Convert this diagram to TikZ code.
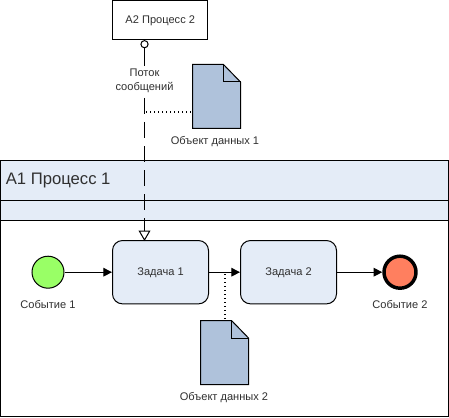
\documentclass[tikz,border=0pt]{standalone}
\usepackage{fontspec}
\setmainfont{Liberation Sans}
\usetikzlibrary{arrows.meta}
\definecolor{bandblue}{HTML}{E4ECF7}
\definecolor{docblue}{HTML}{AFC2DB}
\definecolor{startgreen}{HTML}{99FF66}
\definecolor{endred}{HTML}{FF7F5F}
\definecolor{txt}{HTML}{303030}
\tikzset{
  x=0.75pt,y=-0.75pt,
  lbl/.style={font=\fontsize{8.3pt}{10.5pt}\selectfont,text=txt,inner sep=0pt,align=center},
  taskbox/.style={draw=black,line width=0.75pt,fill=bandblue,rounded corners=7.5pt,minimum width=72pt,minimum height=47.5pt,inner sep=0pt},
  startev/.style={circle,draw=black,line width=0.75pt,fill=startgreen,minimum size=24pt,inner sep=0pt},
  endev/.style={circle,draw=black,line width=2.6pt,fill=endred,minimum size=24pt,inner sep=0pt},
  seq/.style={draw=black,line width=0.75pt,-{Triangle[length=6.5pt,width=6.5pt]}},
  assoc/.style={draw=black,line width=1.5pt,dash pattern=on 0.9pt off 2.1pt},
  msg/.style={draw=black,line width=0.75pt,dash pattern=on 12pt off 6pt},
  docshape/.style={draw=black,line width=0.75pt,fill=docblue},
}
\begin{document}
\begin{tikzpicture}
\useasboundingbox (0,0) rectangle (449,417);
% pool
\fill[white] (0,0) rectangle (449,417);
\draw[line width=0.75pt,fill=white] (0.5,160.5) rectangle (448.5,416.5);
\draw[line width=0.75pt,fill=bandblue] (0.5,160.5) rectangle (448.5,220.5);
\draw[line width=0.75pt] (0.5,200.5) -- (448.5,200.5);
\node[anchor=west,font=\fontsize{12.5pt}{15pt}\selectfont,text=txt,inner sep=0pt] (pooltitle) at (5.5,180.5) {A1 Процесс 1};
% process 2
\node[draw=black,line width=0.75pt,fill=white,minimum width=71.25pt,minimum height=29.6pt,inner sep=0pt] (p2) at (160.25,20.2) {};
\node[lbl] (p2l) at (160.25,20.5) {A2 Процесс 2};
% tasks
\node[taskbox] (t1) at (160.5,272.2) {};
\node[lbl] (t1l) at (160.5,272.5) {Задача 1};
\node[taskbox] (t2) at (288.5,272.2) {};
\node[lbl] (t2l) at (288.5,272.5) {Задача 2};
% events
\node[startev] (e1) at (48,272.2) {};
\node[endev] (e2) at (400,272.2) {};
\node[lbl] (e1l) at (48,304.5) {Событие 1};
\node[lbl] (e2l) at (400,304.5) {Событие 2};
% documents
\path[docshape] (192.5,64.5) -- (223.5,64.5) -- (240.5,82) -- (240.5,128.5) -- (192.5,128.5) -- cycle;
\draw[line width=0.75pt] (223.5,64.5) -- (223.5,82) -- (240.5,82);
\coordinate (d1) at (192.5,112.5);
\node[lbl] (d1l) at (215,141.5) {Объект данных 1};
\path[docshape] (200.5,320.5) -- (231.5,320.5) -- (248.5,338) -- (248.5,384.5) -- (200.5,384.5) -- cycle;
\draw[line width=0.75pt] (231.5,320.5) -- (231.5,338) -- (248.5,338);
\coordinate (d2) at (224.5,320.5);
\node[lbl] (d2l) at (224,397.5) {Объект данных 2};
% connectors
\path[seq] (e1) -- (t1);
\path[seq] (t1) -- (t2);
\path[seq] (t2) -- (e2);
\coordinate (j1) at (224.5,274);
\path[assoc] (j1) -- (d2);
\coordinate (m0) at (144.5,50);
\coordinate (m1) at (146,112.5);
\coordinate (m2) at (144.5,231);
\draw[line width=0.75pt,fill=white] (144.5,44.2) circle (2.7pt);
\draw[line width=0.75pt] (144.5,47) -- (m0);
\path[msg] (m0) -- (m2);
\draw[line width=0.75pt,fill=white] (144.5,240) -- (149.7,231) -- (139.3,231) -- cycle;
\path[assoc] (m1) -- (d1);
\node[lbl,fill=white,inner ysep=1pt] (ml) at (144.5,80.5) {Поток\\сообщений};
\end{tikzpicture}
\end{document}
